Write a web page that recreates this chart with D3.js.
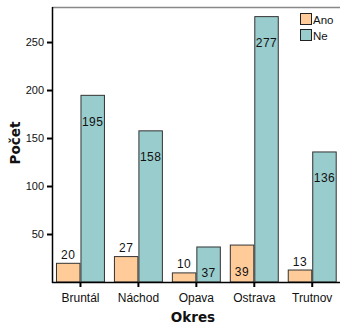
<!DOCTYPE html>
<html>
<head>
<meta charset="utf-8">
<script src="https://cdn.jsdelivr.net/npm/d3@7"></script>
<style>
  html, body { margin: 0; padding: 0; background: #fff; }
  svg { display: block; font-family: "Liberation Sans", Arial, sans-serif; }
</style>
</head>
<body>
<svg id="chart" width="340" height="326"></svg>
<script>
// Counts per district (Okres), split by answer
const categories = ["Bruntál", "Náchod", "Opava", "Ostrava", "Trutnov"];
const groups = ["Ano", "Ne"];
const anoValues = [20, 27, 10, 39, 13];
const neValues = [195, 158, 37, 277, 136];
const yTicks = [50, 100, 150, 200, 250];
const colors = { Ano: "#FFCC99", Ne: "#99CCCC" };

const svg = d3.select("#chart");
const W = 340;
const plotTop = 7, plotBottom = 282, plotLeft = 52;

const x = d3.scaleBand().domain(categories).range([51.5, 341.2])
  .paddingInner(0.155).paddingOuter(0.0775);
const xSub = d3.scaleBand().domain(groups).range([0, x.bandwidth()]);
const y = d3.scaleLinear().domain([0, 286.5]).range([plotBottom, plotTop]);

// frame: grey top border
svg.append("line").attr("x1", plotLeft).attr("x2", W).attr("y1", plotTop + 0.5).attr("y2", plotTop + 0.5)
  .attr("stroke", "#888").attr("stroke-width", 1.5);

const rows = categories.map((c, i) => ({ cat: c, Ano: anoValues[i], Ne: neValues[i] }));
const bars = [];
rows.forEach(r => groups.forEach(g => bars.push({ cat: r.cat, key: g, value: r[g] })));

const barG = svg.append("g");
barG.selectAll("rect").data(bars).join("rect")
  .attr("x", d => x(d.cat) + xSub(d.key) + 0.5)
  .attr("y", d => y(d.value) + 0.5)
  .attr("width", xSub.bandwidth() - 1)
  .attr("height", d => plotBottom - y(d.value) - 0.5)
  .attr("fill", d => colors[d.key])
  .attr("stroke", "#333")
  .attr("stroke-width", 1);

// value labels: inside near the top for tall bars, above for short ones
barG.selectAll("text").data(bars).join("text")
  .attr("x", d => x(d.cat) + xSub(d.key) + xSub.bandwidth() / 2)
  .attr("y", d => (plotBottom - y(d.value) > 30) ? y(d.value) + 31 : y(d.value) - 4)
  .attr("text-anchor", "middle")
  .attr("font-size", 12)
  .attr("letter-spacing", 0.5)
  .attr("fill", "#111")
  .text(d => d.value);

// y axis
const yAxis = svg.append("g").attr("transform", `translate(${plotLeft},0)`)
  .call(d3.axisLeft(y).tickValues(yTicks).tickSize(5).tickPadding(3).tickFormat(d3.format("d")));
yAxis.select(".domain").attr("d", `M0.5,${plotTop}V${plotBottom + 1}`).attr("stroke", "#000").attr("stroke-width", 1.5);
yAxis.selectAll(".tick line").attr("stroke", "#000").attr("stroke-width", 2);
yAxis.selectAll(".tick text").attr("font-size", 11).attr("fill", "#111").attr("font-family", "Liberation Sans, Arial, sans-serif");

// x axis
const xAxis = svg.append("g").attr("transform", `translate(0,${plotBottom})`)
  .call(d3.axisBottom(x).tickSize(5).tickPadding(6));
xAxis.select(".domain").attr("d", `M${plotLeft},0.5H${W}`).attr("stroke", "#000").attr("stroke-width", 1.5);
xAxis.selectAll(".tick line").attr("stroke", "#000").attr("stroke-width", 2);
xAxis.selectAll(".tick text").attr("font-size", 12).attr("fill", "#111").attr("font-family", "Liberation Sans, Arial, sans-serif");

// axis titles
svg.append("text").attr("x", 193).attr("y", 322).attr("text-anchor", "middle")
  .attr("font-size", 13.5).attr("font-weight", "bold").attr("font-family", "DejaVu Sans, sans-serif")
  .attr("fill", "#111").text("Okres");
svg.append("text").attr("transform", "translate(20,143) rotate(-90)").attr("text-anchor", "middle")
  .attr("font-size", 13.5).attr("font-weight", "bold").attr("font-family", "DejaVu Sans, sans-serif")
  .attr("fill", "#111").text("Počet");

// legend
const legend = svg.append("g").attr("transform", "translate(300,13)");
groups.forEach((g, i) => {
  legend.append("rect").attr("x", 0.5).attr("y", i * 16 + 0.5).attr("width", 11).attr("height", 11)
    .attr("fill", colors[g]).attr("stroke", "#222");
  legend.append("text").attr("x", 13).attr("y", i * 16 + 10.5).attr("font-size", 11.5)
    .attr("fill", "#111").text(g);
});
</script>
</body>
</html>
